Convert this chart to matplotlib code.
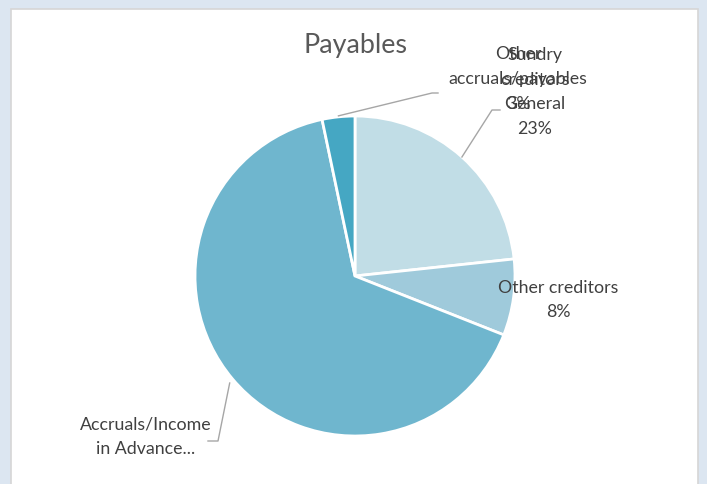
import numpy as np
import matplotlib.pyplot as plt

# Payables breakdown (share of total, %)
categories = ['Sundry\ncreditors\nGeneral', 'Other creditors', 'Accruals/Income\nin Advance...', 'Other\naccruals/payables']
shares = [23.3, 7.7, 65.7, 3.3]
colors = ['#C1DDE6', '#9FCADB', '#6FB6CE', '#45A7C3']
pct_text = ['23%', '8%', '', '3%']

W, H = 707, 484
fig = plt.figure(figsize=(W / 100, H / 100), dpi=100)
fig.patch.set_facecolor('#DCE6F1')
ax = fig.add_axes([0, 0, 1, 1])

# white chart card with a thin grey rim
card = plt.Rectangle((11, -5), 687, H - 9 + 5, facecolor='white', edgecolor='#D6D6D6', lw=1.2)
ax.add_patch(card)

cx, cy, r = 355, H - 276, 160
wedges, _ = ax.pie(shares, colors=colors, startangle=90, counterclock=False,
                   center=(cx, cy), radius=r, frame=True,
                   wedgeprops=dict(edgecolor='white', linewidth=2))
ax.set_xlim(0, W)
ax.set_ylim(0, H)
ax.set_aspect('equal')
ax.axis('off')

font = ['Lato', 'DejaVu Sans']
tc = '#404040'
fs = 12.8
ls = 1.68

ax.text(cx, H - 45, 'Payables', ha='center', va='center', fontsize=19.4, color='#595959', family=font)


def rim(w, frac=1.0, ang=None):
    if ang is None:
        ang = (w.theta1 + w.theta2) / 2
    a = np.deg2rad(ang)
    return cx + r * frac * np.cos(a), cy + r * frac * np.sin(a)


lc = '#A6A6A6'
# Sundry creditors General
x0, y0 = rim(wedges[0])
ax.plot([x0, 492, 500], [y0, H - 110, H - 110], color=lc, lw=1)
ax.text(535, H - 92, categories[0] + '\n' + pct_text[0],
        ha='center', va='center', fontsize=fs, color=tc, family=font, linespacing=ls)

# Other creditors
ax.text(558, H - 300, categories[1] + '\n' + pct_text[1], ha='center', va='center',
        fontsize=fs, color=tc, family=font, linespacing=ls)

# Other accruals/payables
x3, y3 = rim(wedges[3])
ax.plot([x3, 432, 438], [y3 + 1, H - 93, H - 93], color=lc, lw=1)
ax.text(518, H - 79, categories[3] + '\n' + pct_text[3], ha='center', va='center',
        fontsize=fs, color=tc, family=font, linespacing=ls)

# Accruals/Income in Advance
x2, y2 = rim(wedges[2], 1.03, 220.5)
ax.plot([x2, 218, 208], [y2, H - 441, H - 441], color=lc, lw=1)
ax.text(146, H - 437, categories[2], ha='center', va='center', fontsize=fs, color=tc,
        family=font, linespacing=ls)

fig.savefig('out.png', dpi=100, facecolor=fig.get_facecolor())
